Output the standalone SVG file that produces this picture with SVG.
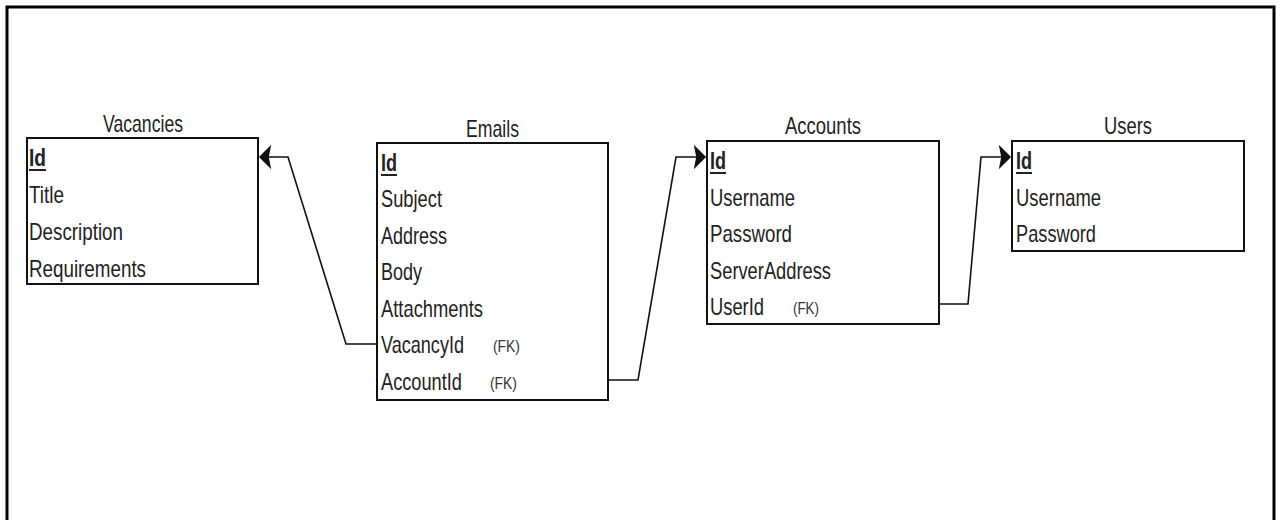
<svg xmlns="http://www.w3.org/2000/svg" width="1281" height="520" viewBox="0 0 1281 520">
  <style>
    .frame { fill: none; stroke: #000; stroke-width: 3; }
    .box { fill: #fff; stroke: #111; stroke-width: 2; }
    .title { font-family: "Liberation Sans", Arial, sans-serif; font-size: 24px; fill: #222; }
    .row { font-family: "Liberation Sans", Arial, sans-serif; font-size: 24px; fill: #222; }
    .pk { font-family: "Liberation Sans", Arial, sans-serif; font-size: 24px; font-weight: bold; fill: #222; }
    .fk { font-family: "Liberation Sans", Arial, sans-serif; font-size: 16px; fill: #333; }
    .ul { stroke: #222; stroke-width: 2; }
    .link { fill: none; stroke: #111; stroke-width: 1.6; }
  </style>
  <defs>
    <marker id="arrow" markerUnits="userSpaceOnUse" markerWidth="12" markerHeight="24" refX="10" refY="10" orient="auto" overflow="visible">
      <path d="M0,0 L10,10 L0,20 L2,10 Z" fill="#111" stroke="#111" stroke-width="1.5" stroke-linejoin="miter"/>
    </marker>
  </defs>

  <rect width="1281" height="520" fill="#fff"/>
  <path class="frame" d="M7,522 V7 H1274 V522"/>

  <!-- Vacancies table -->
  <g id="vacancies">
    <text class="title" x="103" y="132" textLength="80" lengthAdjust="spacingAndGlyphs">Vacancies</text>
    <rect class="box" x="27" y="138" width="231" height="146"/>
    <text class="pk" x="29" y="166" textLength="17" lengthAdjust="spacingAndGlyphs">Id</text>
    <line class="ul" x1="29" y1="170" x2="46" y2="170"/>
    <text class="row" x="29" y="203" textLength="35" lengthAdjust="spacingAndGlyphs">Title</text>
    <text class="row" x="29" y="240" textLength="94" lengthAdjust="spacingAndGlyphs">Description</text>
    <text class="row" x="29" y="277" textLength="117" lengthAdjust="spacingAndGlyphs">Requirements</text>
  </g>

  <!-- Emails table -->
  <g id="emails">
    <text class="title" x="466" y="137" textLength="53" lengthAdjust="spacingAndGlyphs">Emails</text>
    <rect class="box" x="377" y="143" width="231" height="257"/>
    <text class="pk" x="381" y="171" textLength="16" lengthAdjust="spacingAndGlyphs">Id</text>
    <line class="ul" x1="381" y1="175" x2="397" y2="175"/>
    <text class="row" x="381" y="207" textLength="61" lengthAdjust="spacingAndGlyphs">Subject</text>
    <text class="row" x="381" y="244" textLength="66" lengthAdjust="spacingAndGlyphs">Address</text>
    <text class="row" x="381" y="280" textLength="41" lengthAdjust="spacingAndGlyphs">Body</text>
    <text class="row" x="381" y="317" textLength="102" lengthAdjust="spacingAndGlyphs">Attachments</text>
    <text class="row" x="381" y="353" textLength="83" lengthAdjust="spacingAndGlyphs">VacancyId</text>
    <text class="fk" x="493" y="352" textLength="27" lengthAdjust="spacingAndGlyphs">(FK)</text>
    <text class="row" x="381" y="390" textLength="81" lengthAdjust="spacingAndGlyphs">AccountId</text>
    <text class="fk" x="490" y="389" textLength="27" lengthAdjust="spacingAndGlyphs">(FK)</text>
  </g>

  <!-- Accounts table -->
  <g id="accounts">
    <text class="title" x="785" y="134" textLength="76" lengthAdjust="spacingAndGlyphs">Accounts</text>
    <rect class="box" x="707" y="141" width="232" height="183"/>
    <text class="pk" x="710" y="169" textLength="16" lengthAdjust="spacingAndGlyphs">Id</text>
    <line class="ul" x1="710" y1="173" x2="726" y2="173"/>
    <text class="row" x="710" y="206" textLength="85" lengthAdjust="spacingAndGlyphs">Username</text>
    <text class="row" x="710" y="242" textLength="82" lengthAdjust="spacingAndGlyphs">Password</text>
    <text class="row" x="710" y="279" textLength="121" lengthAdjust="spacingAndGlyphs">ServerAddress</text>
    <text class="row" x="710" y="315" textLength="54" lengthAdjust="spacingAndGlyphs">UserId</text>
    <text class="fk" x="793" y="314" textLength="26" lengthAdjust="spacingAndGlyphs">(FK)</text>
  </g>

  <!-- Users table -->
  <g id="users">
    <text class="title" x="1104" y="134" textLength="48" lengthAdjust="spacingAndGlyphs">Users</text>
    <rect class="box" x="1012" y="141" width="232" height="110"/>
    <text class="pk" x="1016" y="169" textLength="16" lengthAdjust="spacingAndGlyphs">Id</text>
    <line class="ul" x1="1016" y1="173" x2="1032" y2="173"/>
    <text class="row" x="1016" y="206" textLength="85" lengthAdjust="spacingAndGlyphs">Username</text>
    <text class="row" x="1016" y="242" textLength="80" lengthAdjust="spacingAndGlyphs">Password</text>
  </g>

  <!-- Foreign-key relations -->
  <g id="connectors">
    <path class="link" d="M377,344 H346 L288,157 H260" marker-end="url(#arrow)"/>
    <path class="link" d="M608,380 H638 L676,157 H705" marker-end="url(#arrow)"/>
    <path class="link" d="M939,304 H968 L981,157 H1010" marker-end="url(#arrow)"/>
  </g>
</svg>
